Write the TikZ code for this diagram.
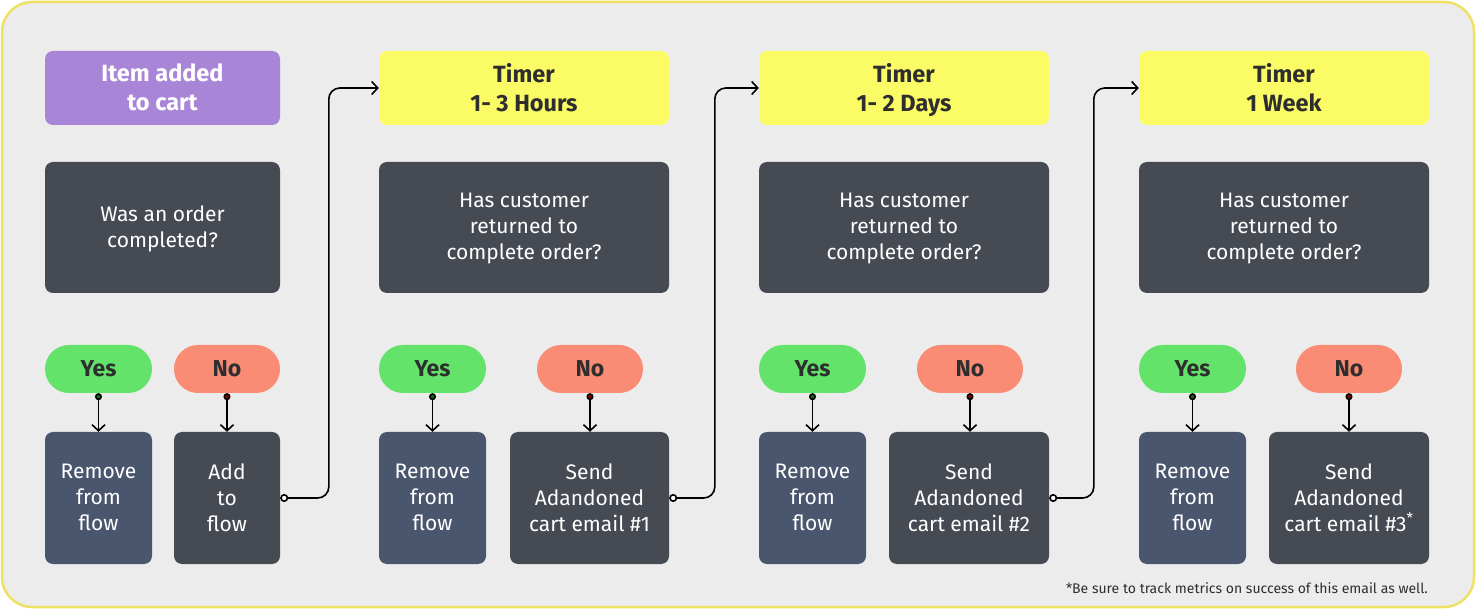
\documentclass[tikz,border=0pt]{standalone}
\usepackage{fontspec}
\setmainfont{Fira Sans}
\usetikzlibrary{arrows.meta}
\definecolor{bgc}{HTML}{ECECEC}
\definecolor{framec}{HTML}{EDE264}
\definecolor{purp}{HTML}{A985D8}
\definecolor{yel}{HTML}{FBFB66}
\definecolor{darkb}{HTML}{464A52}
\definecolor{slate}{HTML}{4A566E}
\definecolor{greenp}{HTML}{63E36A}
\definecolor{salmon}{HTML}{FA8B74}
\definecolor{txtd}{HTML}{2E2E2E}
\newcommand\boxstrut{\rule[-1.5pt]{0pt}{24.5pt}}
\newcommand\titlestrut{\rule[-2pt]{0pt}{27pt}}
\tikzset{
  box/.style={rounded corners=8pt, inner sep=0pt, align=center, text=white,
    font=\fontsize{21}{26}\selectfont, execute at begin node=\boxstrut, execute at end node=\boxstrut},
  qbox/.style={box, fill=darkb, minimum height=131pt},
  actbox/.style={box, fill=darkb, minimum height=132pt},
  rembox/.style={box, fill=slate, minimum width=107pt, minimum height=132pt},
  titlebox/.style={box, minimum height=74pt, font=\fontsize{23.5}{29}\selectfont\bfseries,
    execute at begin node=\titlestrut, execute at end node=\titlestrut},
  timerbox/.style={titlebox, fill=yel, text=txtd, minimum width=290pt},
  pill/.style={rounded corners=24pt, inner sep=0pt, minimum height=48pt,
    font=\fontsize{23}{26}\selectfont\bfseries, text=txtd},
  yespill/.style={pill, fill=greenp, minimum width=107pt},
  nopill/.style={pill, fill=salmon, minimum width=106pt},
  down/.style={draw=black, line width=1.6pt, {Circle[length=7pt, fill=#1]}-{Straight Barb[length=6pt, width=13pt, line width=1.6pt]}},
  conn/.style={draw=black, line width=1.6pt, rounded corners=11pt, {Circle[length=8pt, fill=white]}-{Straight Barb[length=6pt, width=13pt, line width=1.6pt]}},
}
\begin{document}
\begin{tikzpicture}[x=1pt, y=-1pt]
\useasboundingbox (0,0) rectangle (1476,609);
\fill[white] (0,0) rectangle (1476,609);
\draw[framec, line width=2.5pt, fill=bgc, rounded corners=30pt] (2,2) rectangle (1474,607);

% column 1
\node[titlebox, fill=purp, minimum width=235pt] (item) at (162.5,88) {Item added\\to cart};
\node[qbox, minimum width=235pt] (q1) at (162.5,227.5) {Was an order\\\smash{completed?}};
\node[yespill] (yes1) at (98.5,369) {Yes};
\node[nopill] (no1) at (227,369) {No};
\node[rembox] (rem1) at (98.5,498) {Remove\\from\\flow};
\node[actbox, minimum width=106pt] (add1) at (227,498) {Add\\to\\flow};

% column 2
\node[timerbox] (timer1) at (524,88) {Timer\\1- 3 Hours};
\node[qbox, minimum width=290pt] (q2) at (524,227.5) {Has customer\\returned to\\\smash{complete order?}};
\node[yespill] (yes2) at (432.5,369) {Yes};
\node[nopill] (no2) at (590,369) {No};
\node[rembox] (rem2) at (432.5,498) {Remove\\from\\flow};
\node[actbox, minimum width=159pt] (send2) at (589.5,498) {Send\\Adandoned\\cart email \#1};

% column 3
\node[timerbox] (timer2) at (904,88) {Timer\\\smash{1- 2 Days}};
\node[qbox, minimum width=290pt] (q3) at (904,227.5) {Has customer\\returned to\\\smash{complete order?}};
\node[yespill] (yes3) at (812.5,369) {Yes};
\node[nopill] (no3) at (970,369) {No};
\node[rembox] (rem3) at (812.5,498) {Remove\\from\\flow};
\node[actbox, minimum width=160pt] (send3) at (969,498) {Send\\Adandoned\\cart email \#2};

% column 4
\node[timerbox] (timer3) at (1284,88) {Timer\\1 Week};
\node[qbox, minimum width=290pt] (q4) at (1284,227.5) {Has customer\\returned to\\\smash{complete order?}};
\node[yespill] (yes4) at (1192.5,369) {Yes};
\node[nopill] (no4) at (1349,369) {No};
\node[rembox] (rem4) at (1192.5,498) {Remove\\from\\flow};
\node[actbox, minimum width=160pt] (send4) at (1349,498) {Send\\Adandoned\\cart email \#3\textsuperscript{*}};

% footnote
\node[anchor=east, inner sep=0pt, text=txtd, font=\fontsize{14}{16}\selectfont] (note) at (1428,588) {*Be sure to track metrics on success of this email as well.};

% pill arrows
\draw[down=green!45!black] (yes1.south) -- (yes1.south |- rem1.north);
\draw[down=red!55!black] (no1.south) -- (no1.south |- add1.north);
\draw[down=green!45!black] (yes2.south) -- (yes2.south |- rem2.north);
\draw[down=red!55!black] (no2.south) -- (no2.south |- send2.north);
\draw[down=green!45!black] (yes3.south) -- (yes3.south |- rem3.north);
\draw[down=red!55!black] (no3.south) -- (no3.south |- send3.north);
\draw[down=green!45!black] (yes4.south) -- (yes4.south |- rem4.north);
\draw[down=red!55!black] (no4.south) -- (no4.south |- send4.north);

% connectors
\draw[conn] (add1.east) -| ([xshift=-50pt]timer1.west) -- (timer1.west);
\draw[conn] (send2.east) -| ([xshift=-44pt]timer2.west) -- (timer2.west);
\draw[conn] (send3.east) -| ([xshift=-45pt]timer3.west) -- (timer3.west);
\end{tikzpicture}
\end{document}
